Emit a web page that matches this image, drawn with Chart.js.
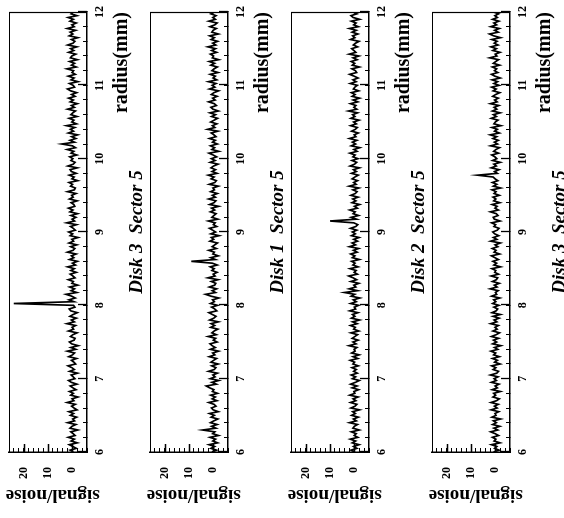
<!DOCTYPE html>
<html>
<head>
<meta charset="utf-8">
<script src="https://cdn.jsdelivr.net/npm/chart.js@4/dist/chart.umd.min.js"></script>
<style>
  html, body { margin: 0; padding: 0; background: #fff; overflow: hidden; }
  #wrap { position: absolute; left: 0; top: 0; width: 518px; height: 564px;
          transform-origin: 0 0; transform: translate(0, 518px) rotate(-90deg); }
  #wrap canvas { position: absolute; left: 0; }
</style>
</head>
<body>
<div id="wrap"></div>
<script>
// ---- data ----
const radius = [
  6, 6.025, 6.05, 6.075, 6.1, 6.125, 6.15, 6.175, 6.2, 6.225,
  6.25, 6.275, 6.3, 6.325, 6.35, 6.375, 6.4, 6.425, 6.45, 6.475,
  6.5, 6.525, 6.55, 6.575, 6.6, 6.625, 6.65, 6.675, 6.7, 6.725,
  6.75, 6.775, 6.8, 6.825, 6.85, 6.875, 6.9, 6.925, 6.95, 6.975,
  7, 7.025, 7.05, 7.075, 7.1, 7.125, 7.15, 7.175, 7.2, 7.225,
  7.25, 7.275, 7.3, 7.325, 7.35, 7.375, 7.4, 7.425, 7.45, 7.475,
  7.5, 7.525, 7.55, 7.575, 7.6, 7.625, 7.65, 7.675, 7.7, 7.725,
  7.75, 7.775, 7.8, 7.825, 7.85, 7.875, 7.9, 7.925, 7.95, 7.975,
  8, 8.025, 8.05, 8.075, 8.1, 8.125, 8.15, 8.175, 8.2, 8.225,
  8.25, 8.275, 8.3, 8.325, 8.35, 8.375, 8.4, 8.425, 8.45, 8.475,
  8.5, 8.525, 8.55, 8.575, 8.6, 8.625, 8.65, 8.675, 8.7, 8.725,
  8.75, 8.775, 8.8, 8.825, 8.85, 8.875, 8.9, 8.925, 8.95, 8.975,
  9, 9.025, 9.05, 9.075, 9.1, 9.125, 9.15, 9.175, 9.2, 9.225,
  9.25, 9.275, 9.3, 9.325, 9.35, 9.375, 9.4, 9.425, 9.45, 9.475,
  9.5, 9.525, 9.55, 9.575, 9.6, 9.625, 9.65, 9.675, 9.7, 9.725,
  9.75, 9.775, 9.8, 9.825, 9.85, 9.875, 9.9, 9.925, 9.95, 9.975,
  10, 10.025, 10.05, 10.075, 10.1, 10.125, 10.15, 10.175, 10.2, 10.225,
  10.25, 10.275, 10.3, 10.325, 10.35, 10.375, 10.4, 10.425, 10.45, 10.475,
  10.5, 10.525, 10.55, 10.575, 10.6, 10.625, 10.65, 10.675, 10.7, 10.725,
  10.75, 10.775, 10.8, 10.825, 10.85, 10.875, 10.9, 10.925, 10.95, 10.975,
  11, 11.025, 11.05, 11.075, 11.1, 11.125, 11.15, 11.175, 11.2, 11.225,
  11.25, 11.275, 11.3, 11.325, 11.35, 11.375, 11.4, 11.425, 11.45, 11.475,
  11.5, 11.525, 11.55, 11.575, 11.6, 11.625, 11.65, 11.675, 11.7, 11.725,
  11.75, 11.775, 11.8, 11.825, 11.85, 11.875, 11.9, 11.925, 11.95, 11.975,
  12
];

const disk3a = [
  -0.4, 0.9, -1.6, -0.2, 1.3, -2.0, 0.5, -0.8, 1.7, -1.1,
  -0.3, 0.6, -2.2, 1.0, 0.2, -1.4, 1.9, -0.9, -0.1, -1.7,
  0.8, -0.5, 1.4, -1.9, -0.7, 0.3, -1.2, 2.1, -0.6, 0.1,
  -2.3, 0.7, -0.4, 1.2, -1.5, -0.2, 0.9, -1.8, 0.4, 1.6,
  -1.0, -0.3, 0.5, -2.1, 1.1, -0.8, 0.2, 1.8, -1.3, -0.6,
  0.4, -1.7, 1.5, -0.1, -0.9, 2.0, -1.4, 0.6, -2.4, 0.3,
  1.2, -0.7, -1.1, 0.8, -0.2, -1.9, 1.6, -0.5, 0.1, -1.3,
  2.2, -0.8, 0.4, -1.6, 1.0, -0.3, -2.0, 0.7, 1.3, -1.0,
  -0.5, 24.0, -0.6, 1.4, -1.2, 0.3, 2.6, -1.8, 0.5, -0.9,
  1.1, -2.2, 0.2, -0.4, 1.7, -1.1, -0.2, 0.9, -1.6, 0.6,
  -0.8, 1.9, -1.3, 0.0, -2.0, 1.2, -0.6, 0.4, -1.5, 2.0,
  -0.3, -1.0, 0.7, -1.8, 1.4, -0.5, 0.2, -2.3, 0.9, -0.1,
  1.5, -1.2, -0.4, 0.8, -1.7, 2.3, -0.9, 0.1, -1.4, 0.6,
  -2.1, 1.0, -0.2, 1.6, -1.0, -0.6, 0.5, -1.9, 1.2, -0.3,
  0.3, -1.5, 2.0, -0.8, -1.2, 0.7, -0.1, 1.4, -2.2, 0.2,
  -0.7, 1.3, -1.6, 0.4, 0.9, -2.0, 1.8, -0.4, -1.1, 0.6,
  -0.2, 1.1, -1.8, 0.5, -0.6, 2.1, -1.3, 0.0, 4.3, -0.9,
  1.0, -1.4, 0.3, -2.1, 1.6, -0.5, 0.8, -1.0, 2.4, -1.7,
  0.2, -0.6, 1.3, -1.9, 0.6, -0.2, -1.3, 1.9, -0.8, 0.4,
  -2.0, 0.9, -0.4, 1.5, -1.1, 0.3, -1.7, 0.7, 2.0, -0.9,
  -0.3, 1.2, -2.3, 0.5, -0.7, 1.7, -1.2, 0.1, -0.5, 2.2,
  -1.6, 0.4, -0.9, 1.1, -2.0, 0.8, 0.2, -1.4, 1.5, -0.6,
  0.7, -1.8, 1.9, -0.3, -1.0, 0.4, -2.2, 1.3, -0.2, 0.9,
  -1.3, 2.1, -0.7, 0.2, -1.6, 1.0, -0.4, 1.7, -1.9, 0.5,
  -0.2
];
const disk1 = [
  0.6, -1.3, 1.0, -0.5, 1.8, -1.7, 0.2, -0.9, 1.4, -2.1,
  0.3, -0.6, 4.4, -1.0, 0.7, -1.5, 1.2, -0.2, -1.8, 0.9,
  -0.4, 1.6, -2.0, 0.1, 0.8, -1.1, -0.3, 1.9, -1.4, 0.5,
  -0.8, 1.1, -1.7, 0.4, -0.2, 1.5, 2.9, -1.2, 0.6, -2.2,
  1.3, -0.7, 0.2, -1.6, 2.0, -0.4, -1.0, 0.7, -1.9, 1.0,
  -0.1, -1.3, 1.7, -0.6, 0.3, -2.1, 1.2, -0.8, 0.5, 1.4,
  -1.5, 0.0, -0.9, 2.1, -1.2, 0.6, -0.3, -1.8, 1.1, -0.5,
  0.9, -2.0, 1.5, -0.2, -1.1, 0.4, 1.8, -1.4, -0.6, 0.7,
  -1.7, 1.2, -0.4, 0.3, -2.2, 1.0, 3.2, -0.9, 0.5, -1.3,
  1.6, -0.5, -1.0, 0.8, -1.9, 2.2, -0.7, 0.1, -1.5, 0.6,
  -0.3, 1.3, -1.6, 0.4, 9.0, -0.8, 1.1, -2.0, 0.2, -0.4,
  1.9, -1.2, 0.5, -0.6, -1.7, 1.4, -0.1, 0.8, -2.3, 1.0,
  -0.9, 0.3, 1.6, -1.4, 0.0, -0.7, 2.0, -1.8, 0.6, -0.2,
  -1.1, 1.2, -0.5, 0.7, -2.1, 1.5, -0.3, -1.0, 1.9, -0.8,
  0.4, -1.6, 1.1, -0.4, 0.2, -2.0, 1.7, -0.6, -1.2, 0.9,
  -0.3, 2.1, -1.5, 0.5, -0.9, 1.0, -0.1, -1.9, 1.3, -0.7,
  0.8, -1.3, 0.1, 1.8, -2.2, 0.6, -0.5, 1.2, -1.6, 0.3,
  -0.8, 1.6, -1.1, -0.2, 0.9, -1.8, 2.3, -0.6, 0.4, -1.4,
  1.1, -0.3, -1.7, 0.7, -0.9, 1.4, -2.0, 0.2, 1.0, -1.2,
  -0.4, 1.9, -0.7, 0.3, -1.5, 0.8, -0.2, -2.1, 1.6, -0.6,
  0.5, -1.1, 2.0, -1.4, 0.1, -0.8, 1.3, -1.9, 0.6, -0.3,
  -1.6, 1.0, -0.5, 1.7, -2.2, 0.4, -0.1, 1.2, -1.3, 0.7,
  -0.9, 2.2, -1.0, 0.3, -1.7, 0.9, -0.4, 1.5, -2.0, 0.6,
  0.1, -1.2, 1.4, -0.6, -1.5, 1.8, -0.8, 0.2, -1.1, 1.0,
  -0.5
];
const disk2 = [
  -0.2, 1.4, -1.0, 0.3, -1.9, 0.9, -0.5, 1.7, -1.4, 0.1,
  -0.7, 1.2, -2.0, 0.6, 0.0, -1.3, 2.0, -0.8, 0.4, -1.6,
  1.1, -0.4, 0.7, -2.1, 1.4, -0.3, -1.0, 1.6, -0.6, 0.5,
  -1.5, 1.9, -0.2, 0.2, -1.7, 0.9, -1.1, 1.5, -0.4, -2.0,
  0.8, -0.5, 1.3, -1.2, 0.3, -0.8, 1.0, -1.6, 0.6, -0.1,
  1.7, -1.4, 0.5, -1.9, 1.1, -0.3, 0.1, -1.0, 2.2, -0.7,
  0.6, -1.5, 0.9, -0.2, -1.3, 1.4, -1.8, 0.3, -0.4, 1.6,
  -1.1, 0.7, -2.1, 1.2, -0.2, 0.8, -1.4, 1.9, -0.5, 0.0,
  -1.7, 1.5, -0.8, 0.4, -2.2, 1.3, -0.1, 4.0, -1.3, 2.1,
  -0.6, 0.2, -1.8, 1.4, -0.9, 0.5, 2.3, -1.2, 0.1, -0.7,
  1.8, -1.5, 0.6, -0.3, 1.1, -2.0, 0.8, -0.2, 1.5, -1.1,
  0.4, -1.7, 2.0, -0.5, 0.9, -1.3, 0.3, -1.9, 1.2, -0.4,
  0.8, -1.0, 1.6, -0.6, -1.4, 0.2, 10.0, -0.9, 1.3, -1.7,
  0.5, -0.3, 1.9, -1.2, 0.0, -2.1, 1.0, -0.6, 0.7, -1.5,
  1.4, -0.4, -1.1, 0.6, -1.8, 2.1, -0.7, 0.3, -1.3, 0.9,
  -0.2, -1.6, 1.2, -0.8, 0.4, -2.0, 1.7, -0.1, -0.9, 1.0,
  -1.4, 0.6, -0.3, 1.8, -1.1, 0.2, -2.2, 1.3, -0.5, 0.8,
  -1.0, 2.0, -0.6, 0.1, -1.6, 1.1, -0.4, -1.2, 1.5, -0.8,
  0.3, -1.9, 1.4, -0.2, 0.7, -1.3, 2.4, -1.0, 0.2, -0.6,
  1.6, -1.4, 0.5, -2.1, 0.9, -0.3, 1.2, -1.7, 0.4, -0.2,
  -1.2, 1.7, -0.7, 0.6, -1.5, 0.1, 1.9, -0.9, -0.4, 1.0,
  -2.0, 0.8, -0.1, 1.3, -1.1, 0.5, -1.8, 2.1, -0.6, 0.2,
  1.1, -1.3, 0.4, -0.5, -1.9, 1.6, -0.2, 0.7, -1.4, 0.9,
  -0.8, 2.0, -1.6, 0.3, -0.7, 1.2, -2.1, 0.5, 1.4, -1.0,
  0.6
];
const disk3b = [
  0.8, -1.5, 0.3, -0.6, 1.6, -1.9, 0.5, -0.2, 1.2, -1.3,
  0.1, 1.9, -1.0, 0.6, -1.8, 1.1, -0.4, 0.8, -2.1, 1.4,
  -0.3, 0.2, -1.4, 1.7, -0.7, 0.4, -1.2, 1.8, -0.5, -1.6,
  1.0, -0.1, 0.7, -2.0, 1.3, -0.8, 0.1, -1.5, 1.6, -0.4,
  0.5, -1.1, 2.0, -0.6, -1.3, 0.9, -0.2, 1.5, -1.9, 0.3,
  -0.8, 1.2, -1.6, 0.7, -0.1, 1.8, -1.0, 0.4, -2.2, 1.1,
  -0.5, 0.8, -1.3, 1.6, -0.3, -1.7, 1.0, -0.7, 0.2, -1.2,
  1.9, -0.6, 0.5, -1.5, 0.9, -2.0, 1.4, -0.3, -0.9, 0.6,
  -1.4, 1.1, -0.2, 0.7, -1.8, 1.5, -0.5, 0.0, -1.1, 2.1,
  -0.7, 0.4, -1.6, 1.2, -0.4, -0.9, 1.7, -1.3, 0.3, -0.2,
  1.4, -2.1, 0.6, -0.5, 1.0, -1.2, 0.2, 1.6, -1.7, 0.5,
  -0.3, 1.3, -1.0, 0.1, -2.0, 1.9, -0.6, 0.8, -1.4, 0.3,
  1.1, -0.8, -1.5, 0.6, -0.1, 1.5, -1.9, 0.4, 0.9, -1.1,
  -0.4, 2.0, -1.2, 0.2, -0.7, 1.3, -1.8, 0.7, -0.2, 1.0,
  -1.6, 0.5, -0.3, 1.4, -2.1, 0.8, -0.6, 1.2, -1.0, 0.1,
  0.9, 7.3, -0.8, 0.3, -1.5, 1.7, -0.4, 0.6, -2.0, 1.1,
  -0.6, 0.2, 1.5, -1.3, 0.7, -0.2, -1.7, 1.9, -0.9, 0.4,
  -1.2, 1.0, -0.5, 2.1, -1.6, 0.3, -0.8, 1.4, -2.2, 0.6,
  0.0, -1.1, 1.7, -0.4, 0.8, -1.9, 1.2, -0.6, 0.5, -1.4,
  2.0, -0.7, 0.3, -1.2, 1.1, -0.1, -1.8, 0.9, -0.3, 1.5,
  -1.5, 0.6, -0.9, 1.3, -2.0, 0.2, 1.6, -1.0, 0.4, -0.5,
  1.2, -1.7, 0.8, -0.2, -1.3, 2.3, -0.6, 0.1, -1.9, 1.0,
  -0.4, 1.8, -1.1, 0.5, -0.7, 1.4, -2.1, 0.7, 2.4, -1.2,
  0.3, -1.6, 1.9, -0.5, 0.6, -1.4, 1.1, -0.8, 0.2, -1.3,
  0.7
];

const panelSeries = [disk3a, disk1, disk2, disk3b];
const panelTitles = ['Disk 3  Sector 5', 'Disk 1  Sector 5', 'Disk 2  Sector 5', 'Disk 3  Sector 5'];
const radiusTitle = 'radius(mm)';
const signalTitle = 'signal/noise';

// ---- drawing ----
const SERIF = '"Liberation Serif", "DejaVu Serif", serif';
const isMajor = v => Math.abs(v - Math.round(v)) < 1e-6;

const frameAndMajorTicks = {
  id: 'frameAndMajorTicks',
  afterDraw(chart) {
    const {ctx, chartArea: a, scales} = chart;
    ctx.save();
    ctx.strokeStyle = '#000';
    ctx.lineWidth = 1.2;
    ctx.beginPath();
    ctx.moveTo(a.left, a.top + 0.5);
    ctx.lineTo(a.right - 0.5, a.top + 0.5);
    ctx.lineTo(a.right - 0.5, a.bottom);
    ctx.stroke();
    ctx.lineWidth = 1.3;
    ctx.beginPath();
    scales.x.ticks.forEach(t => {
      if (isMajor(t.value)) {
        const px = Math.round(scales.x.getPixelForValue(t.value)) + 0.5;
        ctx.moveTo(px, a.bottom);
        ctx.lineTo(px, a.bottom - 9);
      }
    });
    scales.y.ticks.forEach(t => {
      if (Math.abs(t.value % 10) < 1e-6) {
        const py = Math.round(scales.y.getPixelForValue(t.value)) + 0.5;
        ctx.moveTo(a.left, py);
        ctx.lineTo(a.left + 8, py);
      }
    });
    ctx.stroke();
    ctx.restore();
  }
};

const wrap = document.getElementById('wrap');
panelSeries.forEach((series, p) => {
  const cv = document.createElement('canvas');
  cv.width = 518; cv.height = 150;
  cv.style.top = (p * 141) + 'px';
  wrap.appendChild(cv);
  new Chart(cv, {
    type: 'line',
    data: {
      datasets: [{
        data: radius.map((r, i) => ({x: r, y: series[i]})),
        borderColor: '#000',
        borderWidth: 1.7,
        pointRadius: 0,
        tension: 0,
        fill: false
      }]
    },
    options: {
      responsive: false,
      animation: false,
      devicePixelRatio: 1,
      layout: { padding: { top: 9, right: 12, left: 0, bottom: 3 } },
      plugins: {
        legend: { display: false },
        tooltip: { enabled: false },
        title: {
          display: true, text: panelTitles[p], position: 'bottom', color: '#000',
          padding: 0, fullSize: false,
          font: { family: SERIF, size: 19, style: 'italic', weight: 'bold', lineHeight: 1 }
        }
      },
      scales: {
        x: {
          type: 'linear', position: 'bottom', min: 6, max: 12,
          ticks: {
            stepSize: 0.2, autoSkip: false, maxRotation: 0, minRotation: 0, padding: 10,
            color: '#000', font: { family: SERIF, size: 12, weight: 'bold' },
            callback: v => isMajor(v) ? String(Math.round(v)) : ''
          },
          grid: { drawOnChartArea: false, drawTicks: true, tickLength: -4, tickColor: '#000', tickWidth: 1, color: '#000' },
          border: { display: true, color: '#000', width: 1.5 },
          title: {
            display: true, text: radiusTitle, align: 'end', color: '#000',
            padding: { top: 0, bottom: -4 },
            font: { family: SERIF, size: 20, weight: 'bold', lineHeight: 1 }
          },
          afterFit: s => { s.height = 41; s.paddingLeft = 0; s.paddingRight = 0; }
        },
        y: {
          type: 'linear', position: 'left', min: -6, max: 26,
          ticks: {
            stepSize: 2, autoSkip: false, padding: 19,
            color: '#000', font: { family: SERIF, size: 12, weight: 'bold' },
            callback: v => (Math.abs(v % 10) < 1e-6) ? String(Math.round(v)) : ''
          },
          grid: { drawOnChartArea: false, drawTicks: true, tickLength: -4, tickColor: '#000', tickWidth: 1, color: '#000' },
          border: { display: true, color: '#000', width: 1.5 },
          title: {
            display: true, text: signalTitle + '  ', color: '#000',
            padding: { top: 13.5, bottom: 0 },
            font: { family: SERIF, size: 19, weight: 'bold', lineHeight: 1 }
          },
          afterFit: s => { s.width = 66; s.paddingTop = 0; s.paddingBottom = 0; }
        }
      }
    },
    plugins: [frameAndMajorTicks]
  });
});
</script>
</body>
</html>
